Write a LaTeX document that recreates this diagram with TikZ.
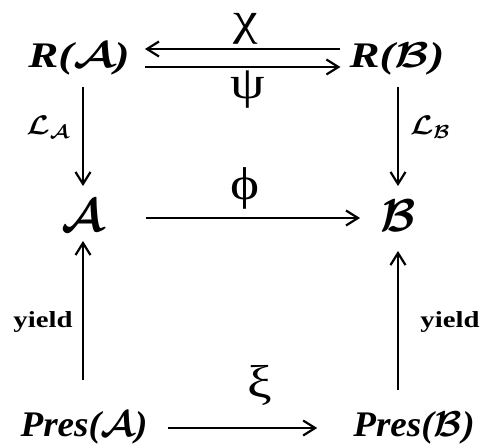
\RequirePackage{fix-cm}
\documentclass[tikz,border=0pt]{standalone}
\usepackage{fontspec}
\setmainfont{Liberation Serif}
\usetikzlibrary{arrows.meta}
\newcommand{\wider}[2][1.4]{\scalebox{#1}[1]{#2}}
\begin{document}
\begin{tikzpicture}[x=1pt, y=1pt,
  obj/.style={inner sep=0pt, font=\fontsize{#1}{#1}\selectfont\bfseries\itshape\boldmath},
  mid/.style={inner sep=0pt, font=\fontsize{46}{46}\selectfont\boldmath},
  map/.style={inner sep=0pt, font=\fontsize{46}{46}\selectfont},
  side/.style={inner sep=0pt, font=\fontsize{#1}{#1}\selectfont\bfseries\boldmath},
  arr/.style={-{Straight Barb[length=12pt, width=15pt]}, line width=2.2pt}]
  \useasboundingbox (0,0) rectangle (486,445);
  % objects
  \node[obj=36] (ra) at (79,386) {\wider[1.25]{R($\mathcal{A}$)}};
  \node[obj=36] (rb) at (397,386) {\wider[1.25]{R($\mathcal{B}$)}};
  \node[mid] (a) at (83,229) {$\mathcal{A}$};
  \node[mid] (b) at (398,229) {$\mathcal{B}$};
  \node[obj=36] (pa) at (84,17) {\wider[1.03]{Pres($\mathcal{A}$)}};
  \node[obj=36] (pb) at (414,17) {\wider[1.03]{Pres($\mathcal{B}$)}};
  % maps
  \draw[arr, shorten <=9pt, shorten >=15pt] ([yshift=10pt]rb.west) -- ([yshift=10pt]ra.east);
  \draw[arr, shorten <=15pt, shorten >=9pt] ([yshift=-8pt]ra.west -| ra.east) -- ([yshift=-8pt]rb.west);
  \draw[arr, shorten <=42pt, shorten >=20pt] ([yshift=-2pt]a.east) -- ([yshift=-2pt]b.west);
  \draw[arr, shorten <=20pt, shorten >=36pt] (pa.east) -- (pb.west);
  \draw[arr, shorten <=11pt, shorten >=14pt] (ra.south -| a) -- (a.north);
  \draw[arr, shorten <=11pt, shorten >=14pt] (rb.south -| b) -- (b.north);
  \draw[arr, shorten <=31pt, shorten >=9pt] (pa.north -| a) -- (a.south);
  \draw[arr, shorten <=21pt, shorten >=19pt] (pb.north -| b) -- (b.south);
  % labels
  \node[map] (chi) at (246,416) {\wider[1.2]{χ}};
  \node[map] (psi) at (248,355) {\wider[1.2]{ψ}};
  \node[map] (phi) at (245,257) {\wider[1.2]{ϕ}};
  \node[map] (xi) at (260,60) {\wider[1.2]{ξ}};
  \node[side=27] (la) at (48,318) {\wider[1.1]{$\mathcal{L}_{\mathcal{A}}$}};
  \node[side=27] (lb) at (430,318) {\wider[1.1]{$\mathcal{L}_{\mathcal{B}}$}};
  \node[side=23] (ya) at (43,123) {\wider[1.25]{yield}};
  \node[side=23] (yb) at (450,123) {\wider[1.25]{yield}};
\end{tikzpicture}
\end{document}
